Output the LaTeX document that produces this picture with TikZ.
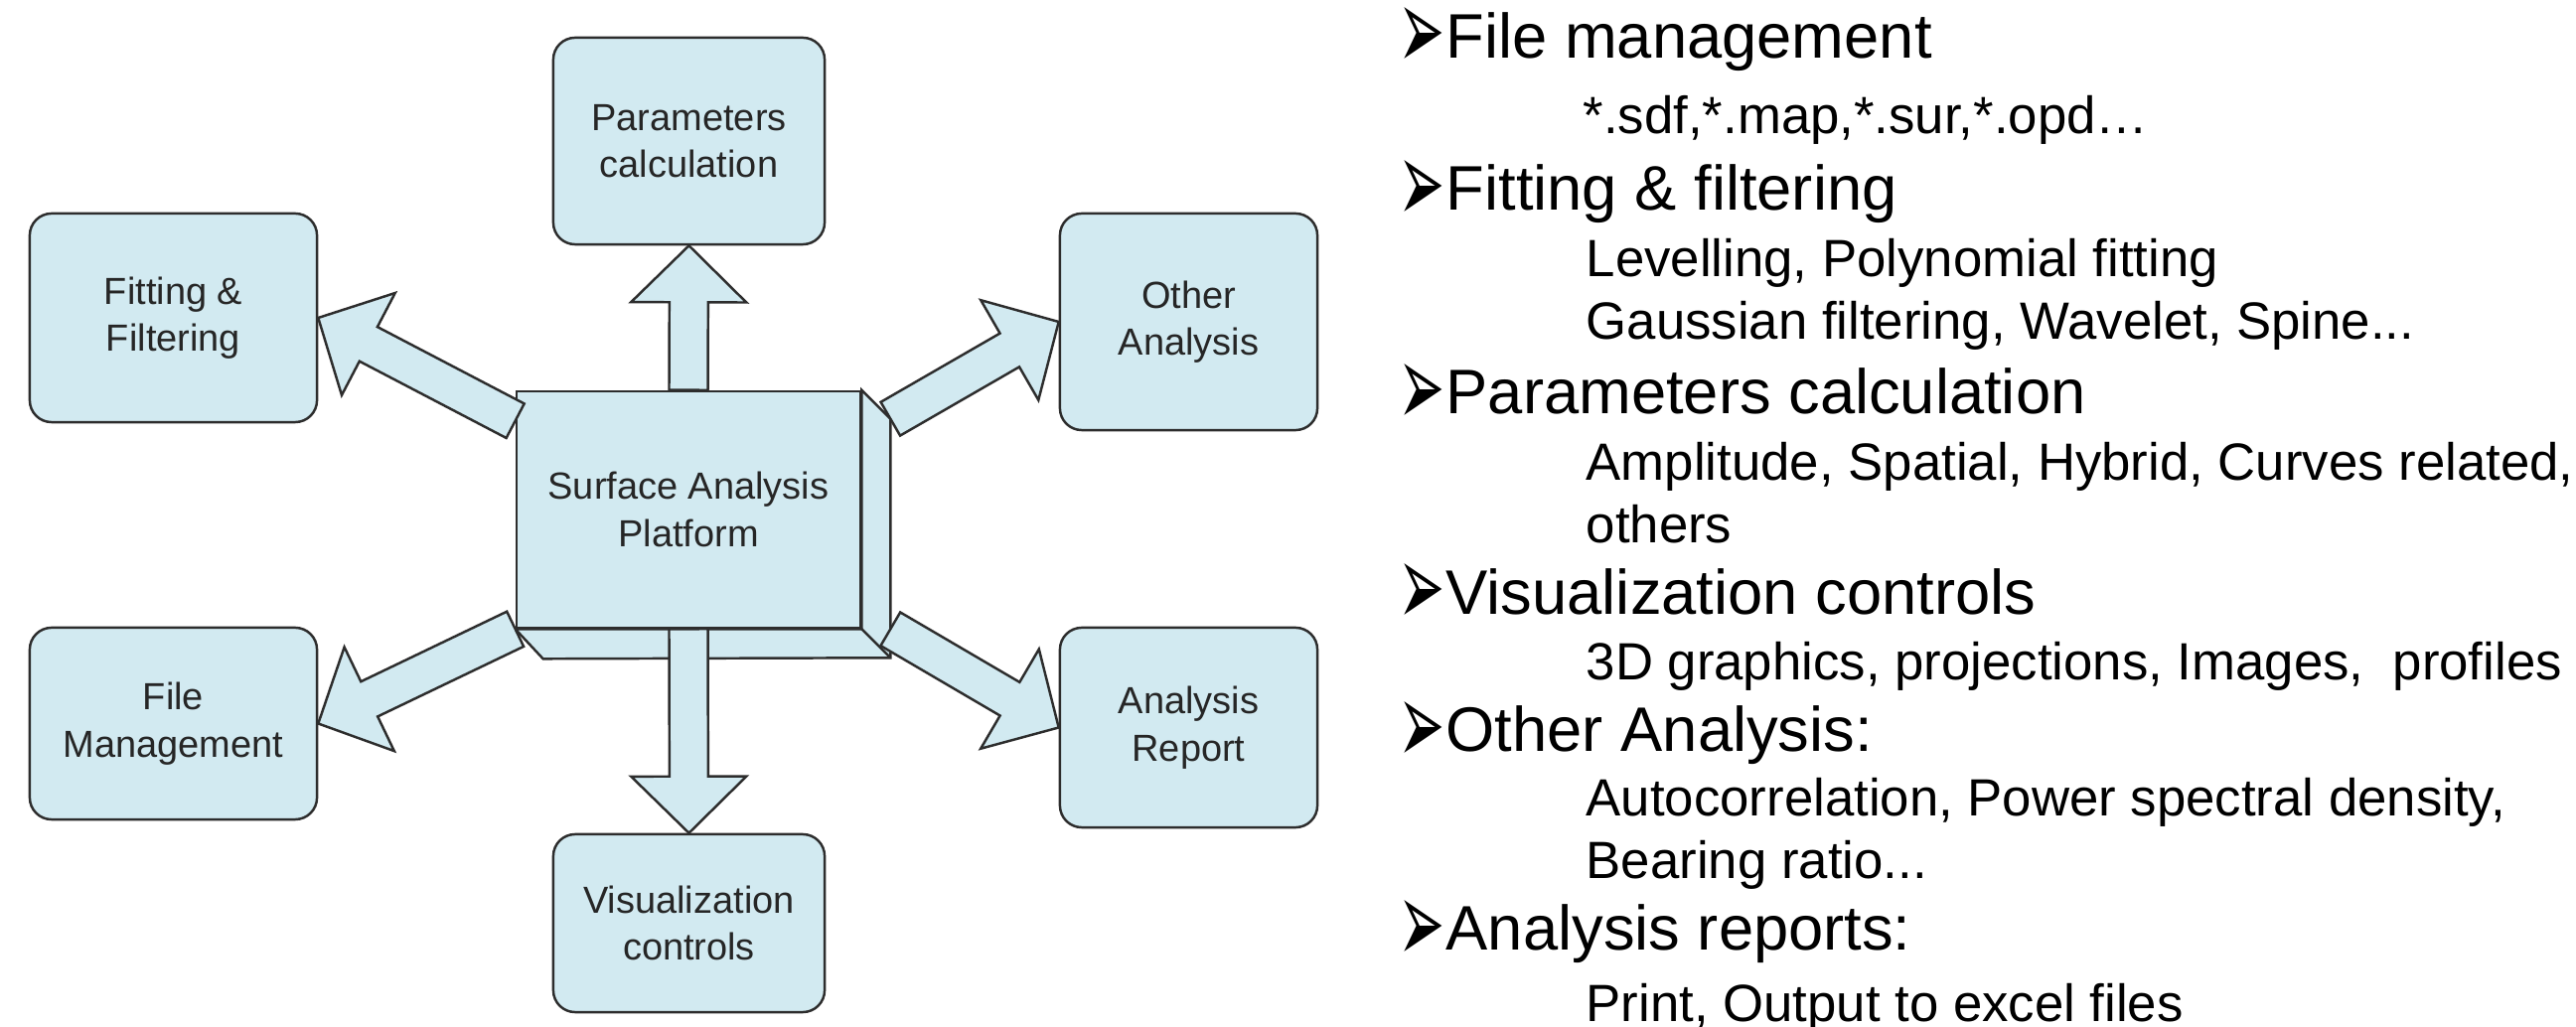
\documentclass[tikz,border=0pt]{standalone}
\usepackage{graphicx}
\usepackage{fontspec}
\setmainfont{Liberation Sans}
\newfontfamily\dingfont{DejaVu Sans}
\usetikzlibrary{calc,positioning}

\definecolor{boxblue}{RGB}{210,234,241}
\definecolor{edgegray}{RGB}{45,45,45}

\tikzset{
  unit/.style={draw=edgegray, line width=0.7pt, fill=boxblue, rounded corners=0.22cm,
    align=center, text=black!85, font=\fontsize{10.8}{13.5}\selectfont, inner sep=0pt},
  fat/.style={draw=edgegray, line width=0.7pt, fill=boxblue, line join=miter},
  head/.style={anchor=base west, inner sep=0pt, font=\fontsize{18}{20}\selectfont},
  sub/.style={anchor=base west, inner sep=0pt, font=\fontsize{15}{17}\selectfont}
}

% block arrow from tail #1 to tip #2
\newcommand{\fatarrow}[2]{%
  \draw[fat] ($(#1)!0.195cm!90:(#2)$) -- ($(#2)!0.57cm!(#1)!0.195cm!90:(#2)$)
    -- ($(#2)!0.57cm!(#1)!0.58cm!90:(#2)$) -- (#2)
    -- ($(#2)!0.57cm!(#1)!0.58cm!-90:(#2)$) -- ($(#2)!0.57cm!(#1)!0.195cm!-90:(#2)$)
    -- ($(#1)!0.195cm!-90:(#2)$) -- cycle;}
\newcommand{\bul}{\makebox[0.48cm][l]{\smash{\raisebox{-3.6pt}{\scalebox{1}[2.1]{\dingfont\fontsize{16}{18}\selectfont ➢}}}}}

\begin{document}
\begin{tikzpicture}[x=0.01cm,y=-0.01cm]
    \useasboundingbox (0,0) rectangle (2593,1034);

    % Surrounding modules
    \node[unit, minimum width=2.73cm, minimum height=2.08cm] (param) at (693.5,142) {Parameters\\calculation};
    \node[unit, minimum width=2.73cm, minimum height=1.79cm] (vis) at (693.5,929.5) {Visualization\\controls};
    \node[unit, minimum width=2.89cm, minimum height=2.10cm] (fit) at (174.5,320) {Fitting \&\\Filtering};
    \node[unit, minimum width=2.89cm, minimum height=1.93cm] (file) at (174.5,728.5) {File\\Management};
    \node[unit, minimum width=2.59cm, minimum height=2.18cm] (other) at (1196.5,324) {Other\\Analysis};
    \node[unit, minimum width=2.59cm, minimum height=2.01cm] (report) at (1196.5,732.5) {Analysis\\Report};

    % Central platform box
    \node[unit, rounded corners=0pt, minimum width=3.46cm, minimum height=2.38cm] (core) at (693,513) {Surface Analysis\\Platform};
    \draw[fat] (core.north east) -- ++(29,29) -- ($(core.south east)+(29,29)$) -- ($(core.south west)+(28,30)$)
        -- (core.south west) -- (core.south east) -- cycle;
    \draw[fat] (core.south east) -- ++(29,29);

    % Arrows out of the platform
    \coordinate (ul) at ($(core.north west)+(0,31)$);
    \coordinate (ur) at ($(core.north east)+(29,29)$);
    \coordinate (lr) at ($(core.south east)+(29,0)$);
    \fatarrow{core.north}{param.south}
    \fatarrow{core.south}{vis.north}
    \fatarrow{ul}{fit.east}
    \fatarrow{core.south west}{file.east}
    \fatarrow{ur}{other.west}
    \fatarrow{lr}{report.west}

    % Feature list
    \node[head] (h1) at (1407,58.3) {\bul File management};
    \node[sub] (s1) at (1593,135) {*.sdf,*.map,*.sur,*.opd…};
    \node[head] (h2) at (1407,211.7) {\bul Fitting \& filtering};
    \node[sub] (s2) at (1596,278.3) {Levelling, Polynomial fitting};
    \node[sub] (s3) at (1596,341.7) {Gaussian filtering, Wavelet, Spine...};
    \node[head] (h3) at (1407,416.7) {\bul Parameters calculation};
    \node[sub] (s4) at (1596,483.3) {Amplitude, Spatial, Hybrid, Curves related,};
    \node[sub] (s5) at (1596,546.7) {others};
    \node[head] (h4) at (1407,618.3) {\bul Visualization controls};
    \node[sub] (s6) at (1596,685) {3D graphics, projections, Images,\ \ profiles};
    \node[head] (h5) at (1407,756.7) {\bul Other Analysis:};
    \node[sub] (s7) at (1596,821.7) {Autocorrelation, Power spectral density,};
    \node[sub] (s8) at (1596,885) {Bearing ratio...};
    \node[head] (h6) at (1407,956.7) {\bul Analysis reports:};
    \node[sub] (s9) at (1596,1028) {Print, Output to excel files};
\end{tikzpicture}
\end{document}
